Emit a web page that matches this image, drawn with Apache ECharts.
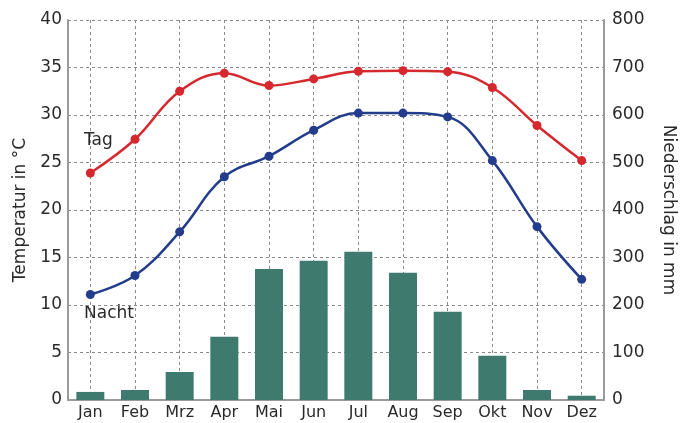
<!DOCTYPE html>
<html><head><meta charset="utf-8">
<script src="https://cdn.jsdelivr.net/npm/echarts@6/dist/echarts.min.js"></script>
<style>html,body{margin:0;padding:0;background:#fff}#c{width:689px;height:423px}</style>
</head><body><div id="c"></div>
<script>
const months = ['Jan','Feb','Mrz','Apr','Mai','Jun','Jul','Aug','Sep','Okt','Nov','Dez'];
const tempDay = [23.9, 27.45, 32.5, 34.4, 33.1, 33.8, 34.6, 34.67, 34.56, 32.9, 28.9, 25.2];
const tempNight = [11.1, 13.1, 17.7, 23.5, 25.66, 28.4, 30.2, 30.2, 29.8, 25.2, 18.25, 12.7];
const precip = [17, 21, 59, 133, 276, 293, 312, 268, 186, 93, 21, 9];
const leftLabels = [0,5,10,15,20,25,30,35,40];
const rightLabels = [0,100,200,300,400,500,600,700,800];

const FONT = 'DejaVu Sans';
const FW = 'normal';
const TXT = '#2a2a2a';
const gridDash = {color:'#8a8a8a', type:[3,3], width:1};
const chart = echarts.init(document.getElementById('c'), null, {renderer:'canvas'});
chart.setOption({
  animation:false,
  textStyle:{fontFamily:FONT, fontWeight:FW},
  grid:{left:68, right:85, top:20, bottom:23, containLabel:false},
  xAxis:{
    type:'category', data:months, boundaryGap:true,
    axisLine:{show:true, lineStyle:{color:'#9a9a9e', width:2}},
    axisTick:{show:false, alignWithLabel:true},
    axisLabel:{color:TXT, fontSize:16, fontFamily:FONT, fontWeight:FW, margin:5},
    splitLine:{show:true, alignWithLabel:true, lineStyle:gridDash}
  },
  yAxis:[
    {type:'value', min:0, max:40, interval:5, position:'left',
     name:'Temperatur in °C', nameLocation:'middle', nameGap:39, nameRotate:90,
     nameTextStyle:{color:TXT, fontSize:17, fontFamily:FONT, fontWeight:FW},
     axisLine:{show:true, lineStyle:{color:'#9a9a9e', width:2}},
     axisTick:{show:false},
     axisLabel:{color:TXT, fontSize:17, fontFamily:FONT, fontWeight:FW, margin:6, formatter:v=>leftLabels.includes(v)?String(v):''},
     splitLine:{show:true, lineStyle:gridDash}},
    {type:'value', min:0, max:800, interval:100, position:'right',
     name:'Niederschlag in mm', nameLocation:'middle', nameGap:56, nameRotate:-90,
     nameTextStyle:{color:TXT, fontSize:17, fontFamily:FONT, fontWeight:FW},
     axisLine:{show:true, lineStyle:{color:'#9a9a9e', width:2}},
     axisTick:{show:false},
     axisLabel:{color:TXT, fontSize:17, fontFamily:FONT, fontWeight:FW, margin:8, formatter:v=>rightLabels.includes(v)?String(v):''},
     splitLine:{show:false}}
  ],
  graphic:[
    {type:'text', left:84, top:132, style:{text:'Tag', fontSize:17, fontFamily:FONT, fontWeight:FW, fill:TXT}},
    {type:'text', left:84, top:305, style:{text:'Nacht', fontSize:17, fontFamily:FONT, fontWeight:FW, fill:TXT}}
  ],
  series:[
    {type:'bar', yAxisIndex:1, data:precip, barWidth:28, itemStyle:{color:'#3e7a6d'}, z:2},
    {type:'line', yAxisIndex:0, data:tempDay, smooth:0.4, symbol:'circle', symbolSize:9,
     lineStyle:{color:'#d6282f', width:2.5}, itemStyle:{color:'#d6282f'}, z:4},
    {type:'line', yAxisIndex:0, data:tempNight, smooth:0.4, symbol:'circle', symbolSize:9,
     lineStyle:{color:'#233d8c', width:2.5}, itemStyle:{color:'#233d8c'}, z:4}
  ]
});
</script></body></html>
